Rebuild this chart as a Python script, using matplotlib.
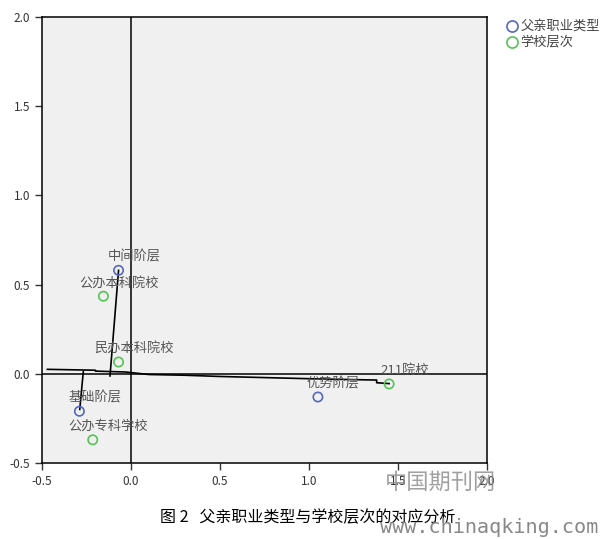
import matplotlib
matplotlib.use('Agg')
import matplotlib.pyplot as plt

plt.rcParams['font.family'] = ['Noto Sans CJK SC', 'DejaVu Sans']

# correspondence analysis coordinates
father_labels = ['中间阶层', '基础阶层', '优势阶层']
father_x = [-0.07, -0.29, 1.05]
father_y = [0.58, -0.21, -0.13]

school_labels = ['公办本科院校', '民办本科院校', '公办专科学校', '211院校']
school_x = [-0.155, -0.07, -0.215, 1.45]
school_y = [0.435, 0.066, -0.37, -0.057]

# hand drawn guide lines
guide_h_x = [-0.47, -0.2, -0.2, -0.03, 0.1, 0.3, 0.5, 0.7, 0.9, 1.1, 1.38, 1.38, 1.45]
guide_h_y = [0.025, 0.02, 0.015, 0.01, -0.004, -0.008, -0.015, -0.02, -0.025, -0.03, -0.035, -0.05, -0.055]
guide_v1_x = [-0.07, -0.118]
guide_v1_y = [0.58, -0.012]
guide_v2_x = [-0.268, -0.288]
guide_v2_y = [0.012, -0.20]

blue = '#5468c0'
green = '#55c455'

fig = plt.figure(figsize=(6.16, 5.39), dpi=100)
ax = fig.add_axes([0.0682, 0.141, 0.7224, 0.8275])
ax.set_facecolor('#f0f0f0')

ax.axhline(0, color='black', lw=1.1, zorder=1)
ax.axvline(0, color='black', lw=1.1, zorder=1)

ax.plot(guide_h_x, guide_h_y, color='black', lw=1.2, zorder=2)
ax.plot(guide_v1_x, guide_v1_y, color='black', lw=1.2, zorder=2)
ax.plot(guide_v2_x, guide_v2_y, color='black', lw=1.2, zorder=2)

ax.scatter(father_x, father_y, s=45, facecolors='none', edgecolors=blue, lw=1.2, zorder=3)
ax.scatter(school_x, school_y, s=45, facecolors='none', edgecolors=green, lw=1.2, zorder=3)

for lab, x, y in zip(father_labels + school_labels, father_x + school_x, father_y + school_y):
    ax.annotate(lab, (x, y), xytext=(11, 5), textcoords='offset points',
                ha='center', va='bottom', fontsize=9.5, color='#555555', zorder=4)

ax.set_xlim(-0.5, 2.0)
ax.set_ylim(-0.5, 2.0)
ax.set_xticks([-0.5, 0.0, 0.5, 1.0, 1.5, 2.0])
ax.set_yticks([-0.5, 0.0, 0.5, 1.0, 1.5, 2.0])
ax.xaxis.set_major_formatter(matplotlib.ticker.FormatStrFormatter('%.1f'))
ax.yaxis.set_major_formatter(matplotlib.ticker.FormatStrFormatter('%.1f'))
ax.tick_params(direction='out', length=5, width=1, labelsize=8.5, colors='#333333')
for s in ax.spines.values():
    s.set_linewidth(1.1)

# legend outside the plot
fig.text(0.845, 0.952, '父亲职业类型', fontsize=9.5, color='#444444', va='center')
fig.text(0.845, 0.922, '学校层次', fontsize=9.5, color='#444444', va='center')
fig.add_artist(plt.Line2D([0.831], [0.952], marker='o', ms=8, mfc='none',
                          mec=blue, mew=1.2, transform=fig.transFigure))
fig.add_artist(plt.Line2D([0.831], [0.922], marker='o', ms=8, mfc='none',
                          mec=green, mew=1.2, transform=fig.transFigure))

# caption and watermarks
fig.text(0.26, 0.04, '图 2   父亲职业类型与学校层次的对应分析', fontsize=11.5, color='black', va='center')
fig.text(0.625, 0.105, '中国期刊网', fontsize=16, color='#888888', va='center', alpha=0.8)
fig.text(0.617, 0.022, 'www.chinaqking.com', fontsize=14.5, color='#888888',
         family='DejaVu Sans Mono', va='center')

fig.savefig('out.png', dpi=100)
